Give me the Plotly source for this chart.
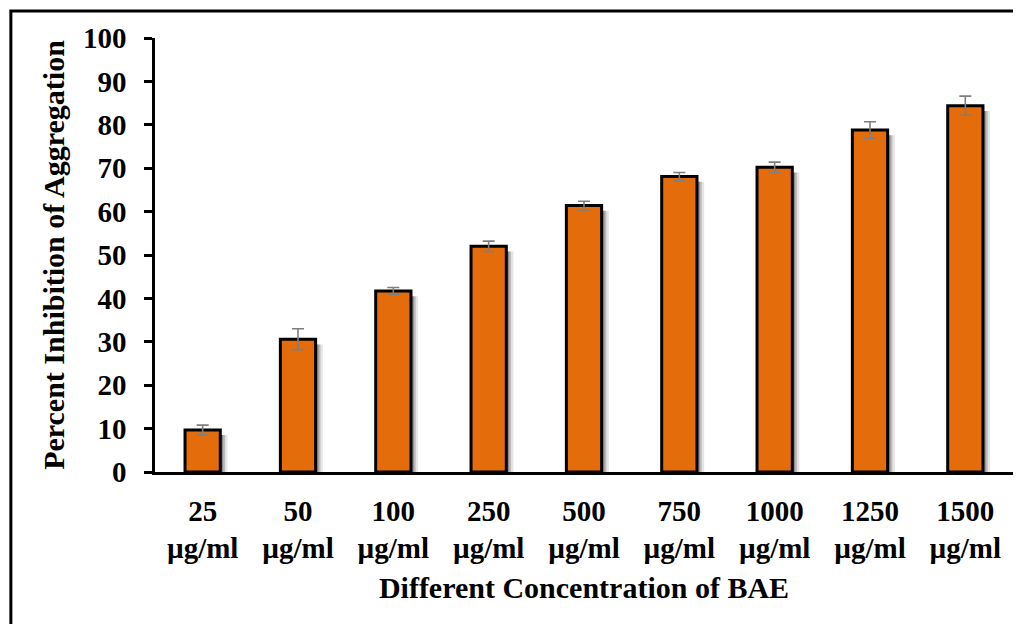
import plotly.graph_objects as go

concentrations = ["25", "50", "100", "250", "500", "750", "1000", "1250", "1500"]
unit = "µg/ml"
inhibition = [9.7, 30.6, 41.7, 52.0, 61.4, 68.1, 70.2, 78.8, 84.4]
errors = [1.1, 2.4, 0.8, 1.2, 1.0, 0.9, 1.2, 1.9, 2.2]
y_ticks = [0, 10, 20, 30, 40, 50, 60, 70, 80, 90, 100]

categories = [f"{c}<br>{unit}" for c in concentrations]

FONT = "Liberation Serif"
BAR_W = 0.37

fig = go.Figure()

# soft drop shadow behind the bars
for dx, alpha in [(0.075, 0.10), (0.05, 0.18), (0.03, 0.25)]:
    fig.add_trace(go.Bar(
        x=categories, y=[v - 1.2 for v in inhibition],
        width=BAR_W, offset=-BAR_W / 2 + dx,
        marker=dict(color=f"rgba(0,0,0,{alpha})", line=dict(width=0)),
        hoverinfo="skip", showlegend=False,
    ))

fig.add_trace(go.Bar(
    x=categories, y=inhibition,
    width=BAR_W, offset=-BAR_W / 2,
    marker=dict(color="#E46C0A", line=dict(color="black", width=3)),
    error_y=dict(type="data", array=errors, visible=True,
                 color="#7F7F7F", thickness=1.6, width=6),
    showlegend=False,
))

fig.update_layout(
    width=1013, height=616,
    barmode="overlay",
    paper_bgcolor="white", plot_bgcolor="white",
    margin=dict(l=147, r=8, t=30, b=152),
    font=dict(family=FONT, color="black", size=29, weight="bold"),
    xaxis=dict(
        showline=True, linecolor="black", linewidth=2.5,
        ticks="", showgrid=False, zeroline=False,
        tickfont=dict(family=FONT, size=29, weight="bold"),
        ticklabelstandoff=11,
        title=dict(text="Different Concentration of BAE",
                   font=dict(family=FONT, size=30, weight="bold"),
                   standoff=14),
    ),
    yaxis=dict(
        range=[0, 100], tickvals=y_ticks,
        showline=True, linecolor="black", linewidth=2.5,
        ticks="outside", ticklen=8, tickwidth=2.5, tickcolor="black",
        showgrid=False, zeroline=False,
        tickfont=dict(family=FONT, size=29, weight="bold"),
        ticklabelstandoff=12,
        title=dict(text="Percent Inhibition of Aggregation",
                   font=dict(family=FONT, size=30, weight="bold"),
                   standoff=10),
    ),
    shapes=[dict(
        type="path", xref="paper", yref="paper",
        path="M -0.168,-0.6 L -0.168,1.062 L 1.2,1.062",
        line=dict(color="black", width=3),
    )],
)

fig.write_html("out.html")
